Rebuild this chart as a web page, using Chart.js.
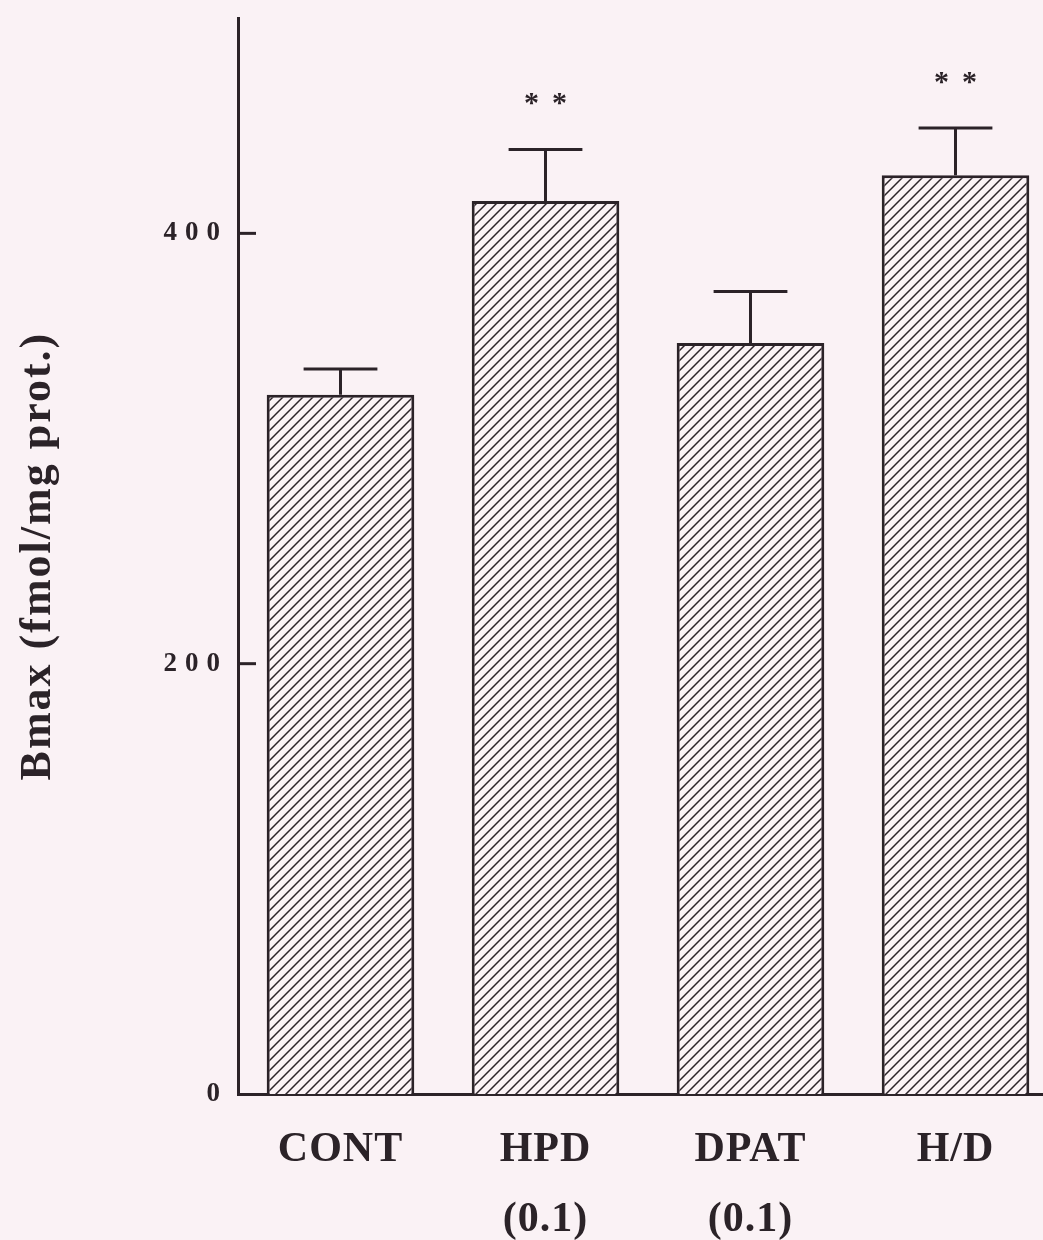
<!DOCTYPE html>
<html>
<head>
<meta charset="utf-8">
<script src="https://cdn.jsdelivr.net/npm/chart.js@4.4.1/dist/chart.umd.min.js"></script>
<style>
  html, body { margin: 0; padding: 0; background: #faf2f5; overflow: hidden; }
  #chartContainer { width: 1058px; height: 1240px; }
</style>
</head>
<body>
<div id="chartContainer"><canvas id="bmaxChart" width="1058" height="1240"></canvas></div>
<script>
const categories = [['CONT'], ['HPD', '(0.1)'], ['DPAT', '(0.1)'], ['H/D']];
const bmaxMean = [325, 415, 349, 427];
const bmaxSem = [12, 24, 24, 22];
const sigMarks = ['', '**', '', '**'];
const yTickValues = [0, 200, 400];

const ink = '#2b2328';
const paper = '#faf2f5';
const serif = "'Liberation Serif', 'Times New Roman', serif";

function makeHatch() {
    const s = 10;
    const c = document.createElement('canvas');
    c.width = s;
    c.height = s;
    const g = c.getContext('2d');
    g.fillStyle = paper;
    g.fillRect(0, 0, s, s);
    g.strokeStyle = ink;
    g.lineWidth = 1.5;
    g.beginPath();
    g.moveTo(0, s); g.lineTo(s, 0);
    g.moveTo(-s / 2, s / 2); g.lineTo(s / 2, -s / 2);
    g.moveTo(s / 2, s * 1.5); g.lineTo(s * 1.5, s / 2);
    g.stroke();
    return g.createPattern(c, 'repeat');
}

// slightly spaced-out lettering, like the typed labels
const spacing = {
    id: 'spacing',
    beforeUpdate(chart) { chart.ctx.letterSpacing = '2px'; },
    beforeDraw(chart) { chart.ctx.letterSpacing = '2px'; }
};

// inward tick marks, SEM whiskers and significance stars
const extras = {
    id: 'extras',
    afterDatasetsDraw(chart) {
        const ctx = chart.ctx;
        const y = chart.scales.y;
        const area = chart.chartArea;
        ctx.save();
        ctx.strokeStyle = ink;
        ctx.lineWidth = 3;
        y.ticks.forEach(function(t) {
            if (t.value === 0) return;
            const py = y.getPixelForValue(t.value);
            ctx.beginPath();
            ctx.moveTo(area.left, py);
            ctx.lineTo(area.left + 18, py);
            ctx.stroke();
        });

        const bars = chart.getDatasetMeta(0).data;
        bars.forEach(function(bar, i) {
            const top = y.getPixelForValue(bmaxMean[i] + bmaxSem[i]);
            const half = bar.width / 4;
            ctx.beginPath();
            ctx.moveTo(bar.x, bar.y);
            ctx.lineTo(bar.x, top);
            ctx.moveTo(bar.x - half, top);
            ctx.lineTo(bar.x + half, top);
            ctx.stroke();

            if (sigMarks[i]) {
                ctx.fillStyle = ink;
                ctx.font = 'bold 30px ' + serif;
                ctx.textAlign = 'center';
                ctx.textBaseline = 'alphabetic';
                ctx.letterSpacing = '0px';
                const chars = sigMarks[i].split('');
                chars.forEach(function(ch, k) {
                    const dx = (k - (chars.length - 1) / 2) * 28;
                    ctx.fillText(ch, bar.x + dx, top - 37);
                });
            }
        });
        ctx.restore();
    }
};

const ctx = document.getElementById('bmaxChart').getContext('2d');
const chart = new Chart(ctx, {
    type: 'bar',
    data: {
        labels: categories,
        datasets: [{
            data: bmaxMean,
            backgroundColor: makeHatch(),
            borderColor: ink,
            borderWidth: 3,
            borderSkipped: 'start',
            barPercentage: 0.72,
            categoryPercentage: 1
        }]
    },
    options: {
        responsive: false,
        animation: false,
        layout: { padding: { left: 12, top: 2, right: 0, bottom: 0 } },
        plugins: {
            legend: { display: false },
            tooltip: { enabled: false }
        },
        scales: {
            x: {
                grid: { display: false },
                border: { color: ink, width: 3 },
                ticks: {
                    color: ink,
                    padding: 14,
                    font: { family: serif, size: 42, weight: 'bold', lineHeight: 1.65 }
                },
                afterFit: function(scale) { scale.height = 146; }
            },
            y: {
                min: 0,
                max: 500,
                afterBuildTicks: function(scale) {
                    scale.ticks = yTickValues.map(v => ({ value: v }));
                },
                grid: { display: false },
                border: { color: ink, width: 3 },
                ticks: {
                    color: ink,
                    padding: 2,
                    font: { family: serif, size: 27, weight: 'bold' }
                },
                title: {
                    display: true,
                    text: 'Bmax (fmol/mg prot.)',
                    color: ink,
                    padding: { top: 0, bottom: 0 },
                    font: { family: serif, size: 44, weight: 'bold' }
                },
                afterFit: function(scale) { scale.width = 226; }
            }
        }
    },
    plugins: [spacing, extras]
});

// the y numbers are set wide, the category names tighter
function withSpacing(scale, amount) {
    const drawLabels = scale.drawLabels;
    scale.drawLabels = function(area) {
        const c = this.ctx;
        const prev = c.letterSpacing;
        c.letterSpacing = amount;
        drawLabels.call(this, area);
        c.letterSpacing = prev;
    };
}
withSpacing(chart.scales.y, '8px');
withSpacing(chart.scales.x, '1px');
chart.draw();
</script>
</body>
</html>
